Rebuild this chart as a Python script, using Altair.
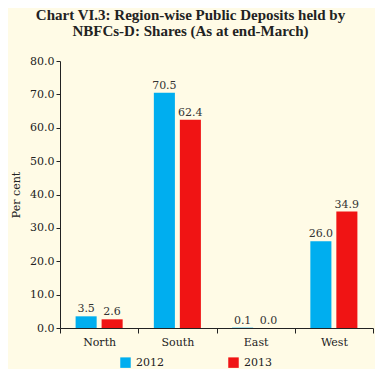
import altair as alt
import pandas as pd

regions = ["North", "South", "East", "West"]
share_2012 = [3.5, 70.5, 0.1, 26.0]
share_2013 = [2.6, 62.4, 0.0, 34.9]
years = ["2012", "2013"]
colors = ["#00AEEF", "#F01414"]

rows = []
for r, a, b in zip(regions, share_2012, share_2013):
    rows.append({"Region": r, "Year": years[0], "Share": a})
    rows.append({"Region": r, "Year": years[1], "Share": b})
df = pd.DataFrame(rows)

FONT = "DejaVu Serif"

x = alt.X("Region:N", sort=regions, title=None,
          scale=alt.Scale(paddingInner=0, paddingOuter=0),
          axis=alt.Axis(labelAngle=0, tickBand="extent", labelFont=FONT, labelFontSize=11,
                        labelColor="#222222", domainColor="#222222", tickColor="#222222",
                        tickSize=5, labelPadding=3))
xo = alt.XOffset("Year:N", scale=alt.Scale(paddingInner=0.19, paddingOuter=0.6))
y = alt.Y("Share:Q", title="Per cent",
          scale=alt.Scale(domain=[0, 80], nice=False),
          axis=alt.Axis(values=list(range(0, 81, 10)), format=".1f", grid=False,
                        labelFont=FONT, labelFontSize=11, labelColor="#222222",
                        titleFont=FONT, titleFontSize=11, titleFontWeight="normal",
                        titleColor="#222222", titlePadding=8,
                        domainColor="#222222", tickColor="#222222", tickSize=4))

base = alt.Chart(df).encode(x=x, xOffset=xo, y=y)

bars = base.mark_bar().encode(
    color=alt.Color("Year:N", scale=alt.Scale(domain=years, range=colors),
                    legend=alt.Legend(title=None, orient="none", direction="horizontal",
                                      legendX=60, legendY=296, symbolType="square",
                                      symbolSize=110, symbolStrokeWidth=0,
                                      labelFont=FONT, labelFontSize=11, labelColor="#222222",
                                      columnPadding=64, labelOffset=5))
)
labels = base.mark_text(dy=-7, font=FONT, fontSize=11, color="#333333").encode(
    text=alt.Text("Share:Q", format=".1f")
)

chart = (bars + labels).properties(
    width=313, height=267,
    autosize=alt.AutoSizeParams(type="none"),
    padding={"left": 52, "top": 53, "right": 2, "bottom": 41},
    background="#FFFBE6",
    title=alt.TitleParams(
        ["Chart VI.3: Region-wise Public Deposits held by", "NBFCs-D: Shares (As at end-March)"],
        font="Liberation Serif", fontSize=15, fontWeight="bold", color="#222222",
        anchor="middle", dx=-26, offset=16, lineHeight=16),
).configure_view(stroke=None)

chart.save("out.html", embed_options={"renderer": "svg", "actions": False})
